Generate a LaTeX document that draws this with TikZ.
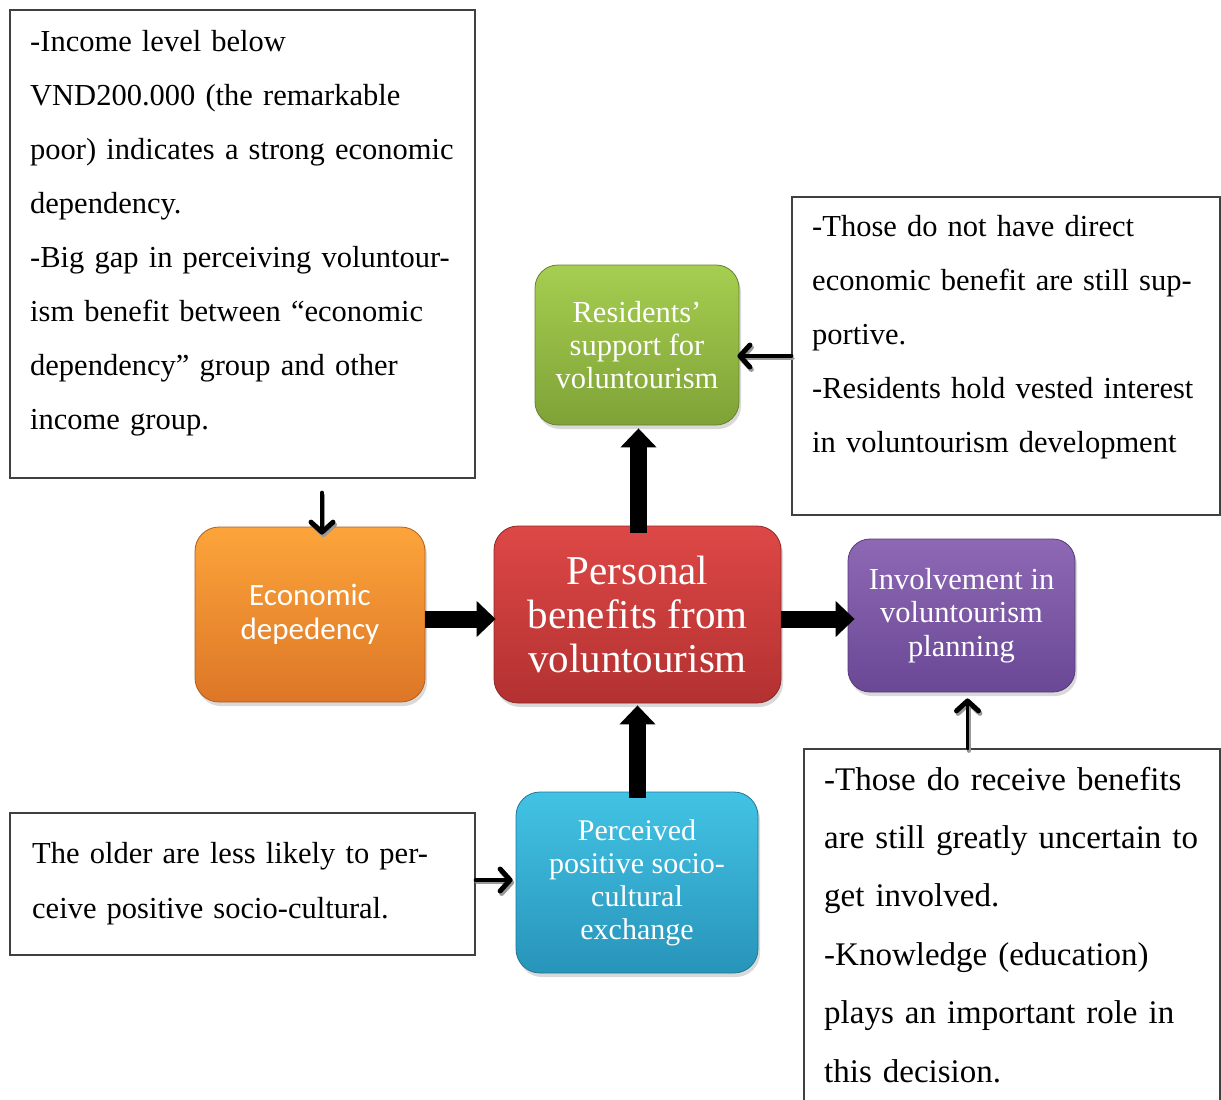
\documentclass[tikz,border=0pt]{standalone}
\usepackage{fontspec}
\setmainfont{Liberation Serif}
\newfontfamily\carlito{Carlito}
\usetikzlibrary{arrows.meta,shadows,calc}

% glossy fills of the concept boxes (top / bottom of the vertical gradient)
\definecolor{orangeTop}{HTML}{FCA43A}
\definecolor{orangeBot}{HTML}{DD7627}
\definecolor{redTop}{HTML}{DD4846}
\definecolor{redBot}{HTML}{B33131}
\definecolor{greenTop}{HTML}{A6CE50}
\definecolor{greenBot}{HTML}{7FA237}
\definecolor{purpleTop}{HTML}{8E68B5}
\definecolor{purpleBot}{HTML}{6A4895}
\definecolor{cyanTop}{HTML}{42C3E4}
\definecolor{cyanBot}{HTML}{2894BA}
\definecolor{frame}{HTML}{404040}

\tikzset{
  concept/.style={rounded corners=24pt, draw=#1Bot!80!black, line width=0.8pt,
    top color=#1Top, bottom color=#1Bot, text=white, align=center, inner sep=0pt,
    drop shadow={shadow xshift=2pt, shadow yshift=-4pt, opacity=0.3}},
  notebox/.style={draw=frame, line width=1.1pt, inner sep=0pt},
  notetext/.style={anchor=base west, inner sep=0pt, align=left, text=black},
  bigarrow/.style={line width=17pt, -{Triangle[length=19pt,width=35pt]}},
  smallarrow/.style={line width=3.8pt, line cap=round,
    -{Straight Barb[length=10pt,width=22pt,line width=0pt 1.3,round]}},
  smallshade/.style={smallarrow, draw=black!40, transform canvas={shift={(1.5pt,-2.5pt)}}},
}

\begin{document}
\begin{tikzpicture}[x=1pt,y=-1pt]
\useasboundingbox (0,0) rectangle (1221,1100);
\clip (0,0) rectangle (1221,1100);

% ---- explanatory note boxes ----
\node[notebox, minimum width=465pt, minimum height=468pt] (tl) at (242.5,244) {};
\node[notebox, minimum width=428pt, minimum height=318pt] (tr) at (1006,356) {};
\node[notebox, minimum width=465pt, minimum height=142pt] (bl) at (242.5,884) {};
\node[notebox, minimum width=416pt, minimum height=361pt] (br) at (1012,929.5) {};

\node[notetext, text width=440pt, font=\fontsize{30.5}{54.1}\selectfont] (tltext) at (30,51)
  {-Income level below\\
   VND200.000 (the remarkable\\
   poor) indicates a strong economic\\
   dependency.\\
   -Big gap in perceiving voluntour-\\
   ism benefit between “economic\\
   dependency” group and other\\
   income group.};
\node[notetext, text width=400pt, font=\fontsize{30.5}{54}\selectfont] (trtext) at (812,236)
  {-Those do not have direct\\
   economic benefit are still sup-\\
   portive.\\
   -Residents hold vested interest\\
   in voluntourism development};
\node[notetext, text width=440pt, font=\fontsize{30.5}{55}\selectfont] (bltext) at (32,863)
  {The older are less likely to per-\\
   ceive positive socio-cultural.};
\node[notetext, text width=390pt, font=\fontsize{33}{58.4}\selectfont] (brtext) at (824,790)
  {-Those do receive benefits\\
   are still greatly uncertain to\\
   get involved.\\
   -Knowledge (education)\\
   plays an important role in\\
   this decision.};

% ---- concept boxes ----
\node[concept=orange, minimum width=230pt, minimum height=175pt,
      font=\carlito\fontsize{31}{34}\selectfont] (econ) at (310,614.5)
  {Economic\\depedency};
\node[concept=red, minimum width=287pt, minimum height=177pt,
      font=\fontsize{41}{44}\selectfont] (pers) at (637.5,614.5)
  {Personal\\benefits from\\voluntourism};
\node[concept=green, minimum width=204pt, minimum height=160pt, rounded corners=23pt,
      font=\fontsize{30.5}{33}\selectfont] (supp) at (637,345)
  {Residents’\\support for\\voluntourism};
\node[concept=purple, minimum width=227pt, minimum height=153pt, rounded corners=22pt,
      font=\fontsize{30.5}{33.5}\selectfont] (plan) at (961.5,615.5)
  {Involvement in\\voluntourism\\planning};
\node[concept=cyan, minimum width=242pt, minimum height=181pt,
      font=\fontsize{30}{33}\selectfont] (soc) at (637,882.5)
  {Perceived\\positive socio-\\cultural\\exchange};

% ---- main flow arrows ----
\draw[bigarrow] ($(econ.east)+(0,4.5)$) -- ($(pers.west)+(2,4.5)$);
\draw[bigarrow] ($(pers.east)+(0,4.5)$) -- ($(plan.west)+(7,3.5)$);
\draw[bigarrow] ($(pers.north)+(1,7)$) -- ($(supp.south)+(1.5,3)$);
\draw[bigarrow] ($(soc.north)+(0.5,6)$) -- ($(pers.south)+(0,2)$);

% ---- note arrows (with a soft grey offset) ----
\coordinate (tlfoot) at ($(tl.south -| econ.north)+(12,14)$);
\coordinate (econtop) at ($(econ.north)+(12,8)$);
\draw[smallshade] (tlfoot) -- (econtop);
\draw[smallarrow] (tlfoot) -- (econtop);

\coordinate (suppside) at ($(tr.west -| supp.east)+(-2,0)$);
\draw[smallshade] (tr.west) -- (suppside);
\draw[smallarrow] (tr.west) -- (suppside);

\coordinate (blside) at ($(bl.east)+(0,-4)$);
\coordinate (socside) at ($(bl.east -| soc.west)+(-3,-4)$);
\draw[smallshade] (blside) -- (socside);
\draw[smallarrow] (blside) -- (socside);

\coordinate (brtop) at ($(br.north -| plan.south)+(6,0)$);
\coordinate (planfoot) at ($(plan.south)+(6,6)$);
\draw[smallshade] (brtop) -- (planfoot);
\draw[smallarrow] (brtop) -- (planfoot);
\end{tikzpicture}
\end{document}
